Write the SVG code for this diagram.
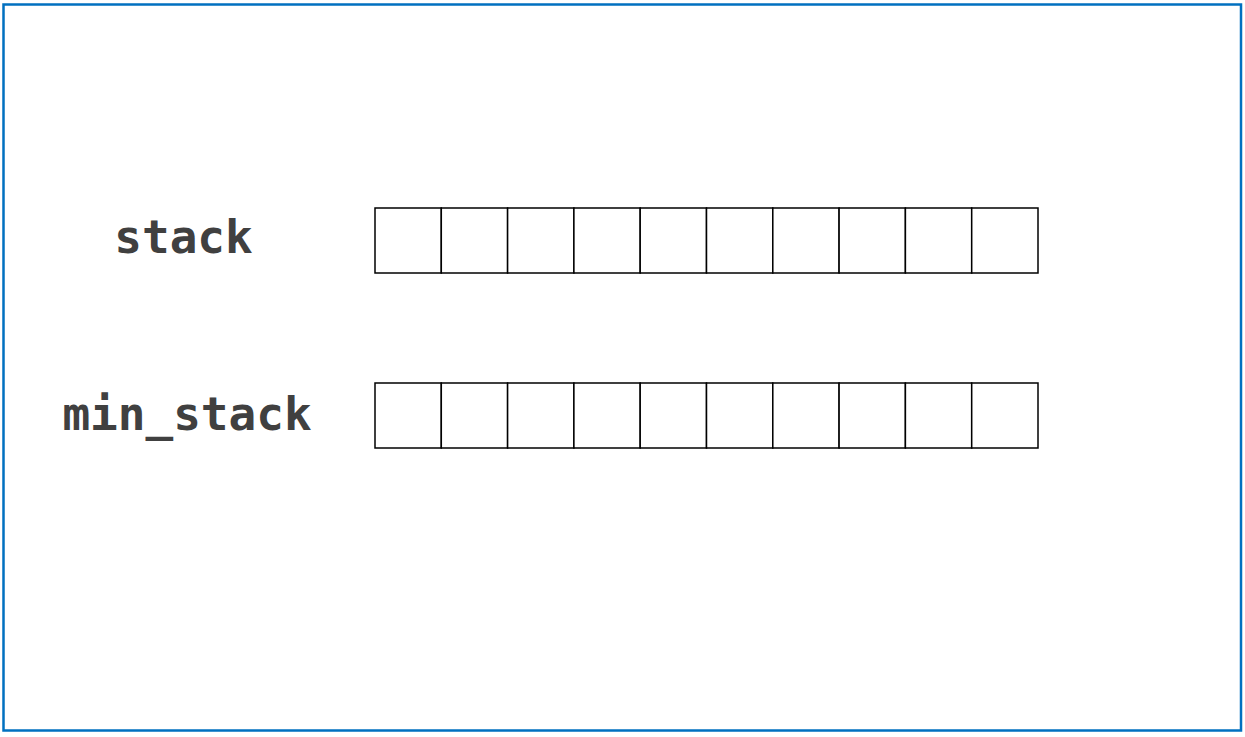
<svg xmlns="http://www.w3.org/2000/svg" width="1245" height="737" viewBox="0 0 1245 737">
<style>
.lbl{font-family:"DejaVu Sans Mono","Liberation Mono",monospace;font-weight:bold;font-size:46px;fill:#404040;text-anchor:middle}
.cell{fill:#fff;stroke:#000;stroke-width:1.5}
</style>
<defs>
<g id="row">
<rect class="cell" x="0" y="0" width="66.3" height="65"/>
<rect class="cell" x="66.3" y="0" width="66.3" height="65"/>
<rect class="cell" x="132.6" y="0" width="66.3" height="65"/>
<rect class="cell" x="198.9" y="0" width="66.3" height="65"/>
<rect class="cell" x="265.2" y="0" width="66.3" height="65"/>
<rect class="cell" x="331.5" y="0" width="66.3" height="65"/>
<rect class="cell" x="397.8" y="0" width="66.3" height="65"/>
<rect class="cell" x="464.1" y="0" width="66.3" height="65"/>
<rect class="cell" x="530.4" y="0" width="66.3" height="65"/>
<rect class="cell" x="596.7" y="0" width="66.3" height="65"/>
</g>
</defs>
<rect x="0" y="0" width="1245" height="737" fill="#fff"/>
<rect x="3.5" y="4.5" width="1237.5" height="726" fill="none" stroke="#0070c0" stroke-width="2.5"/>
<g id="stack">
<text class="lbl" x="183.5" y="253">stack</text>
<use href="#row" x="375" y="208"/>
</g>
<g id="min_stack">
<text class="lbl" x="187" y="430">min_stack</text>
<use href="#row" x="375" y="383"/>
</g>
<g id="connectors"></g>
</svg>
